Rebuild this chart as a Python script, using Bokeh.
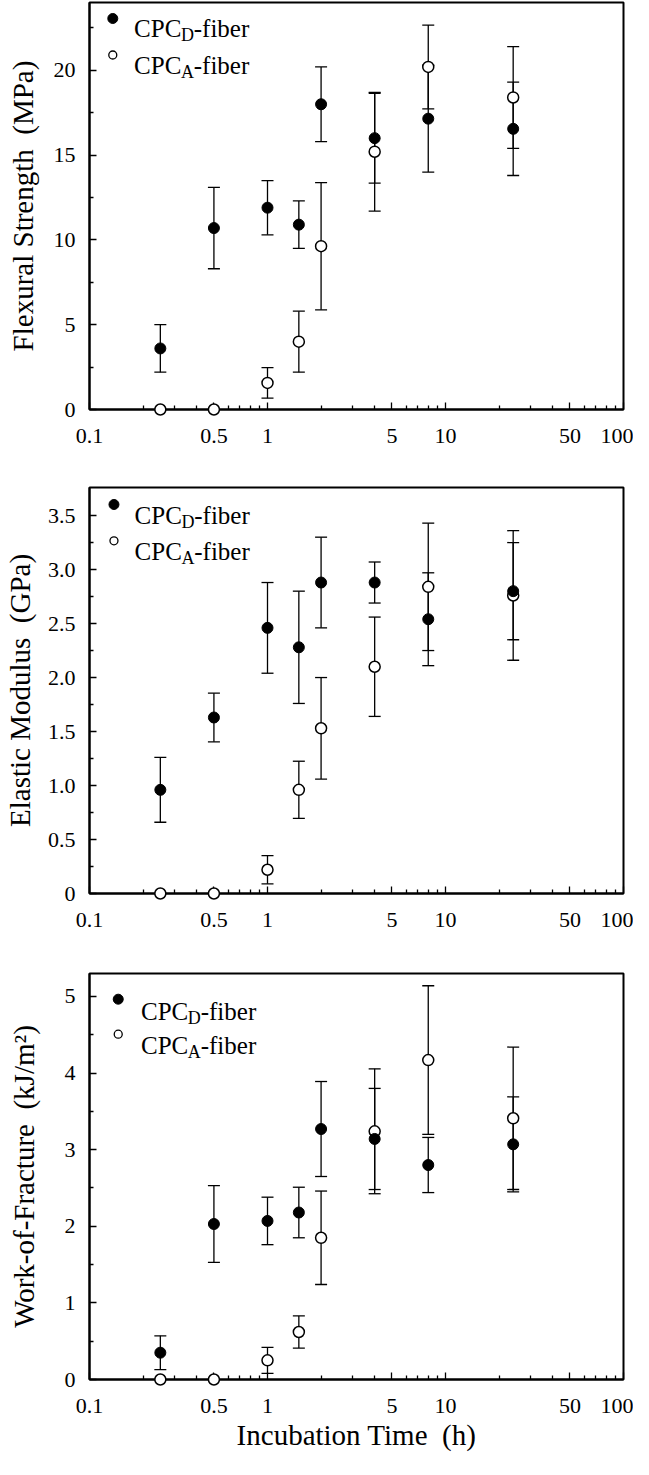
from bokeh.plotting import figure
from bokeh.layouts import column
from bokeh.models import (ColumnDataSource, Whisker, TeeHead, FixedTicker,
                          CustomJSTickFormatter, Range1d, LinearScale)
from bokeh.core.properties import value
from bokeh.embed import file_html
from bokeh.resources import INLINE

# ---------------- data ----------------
time_h = [0.25, 0.5, 1, 1.5, 2, 4, 8, 24]

flex_D = [3.6, 10.7, 11.9, 10.9, 18.0, 16.0, 17.15, 16.55]
flex_D_err = [1.4, 2.4, 1.6, 1.4, 2.2, 2.65, 3.15, 2.75]
flex_A = [0, 0, 1.57, 4.0, 9.63, 15.2, 20.2, 18.4]
flex_A_err = [0, 0, 0.9, 1.8, 3.75, 3.5, 2.47, 3.0]

mod_D = [0.96, 1.63, 2.46, 2.28, 2.88, 2.88, 2.54, 2.80]
mod_D_err = [0.30, 0.225, 0.42, 0.52, 0.42, 0.19, 0.43, 0.45]
mod_A = [0, 0, 0.22, 0.96, 1.53, 2.10, 2.84, 2.76]
mod_A_err = [0, 0, 0.13, 0.265, 0.47, 0.46, 0.59, 0.60]

wof_D = [0.35, 2.03, 2.07, 2.18, 3.27, 3.14, 2.80, 3.07]
wof_D_err = [0.22, 0.50, 0.31, 0.33, 0.62, 0.66, 0.36, 0.62]
wof_A = [0, 0, 0.25, 0.62, 1.85, 3.24, 4.17, 3.41]
wof_A_err = [0, 0, 0.17, 0.21, 0.61, 0.815, 0.97, 0.93]

x_tick_values = [0.1, 0.5, 1, 5, 10, 50, 100]
x_minor_values = [0.2, 0.3, 0.4, 0.6, 0.7, 0.8, 0.9,
                  2, 3, 4, 6, 7, 8, 9,
                  20, 30, 40, 60, 70, 80, 90]

flex_ticks = [0, 5, 10, 15, 20]
flex_minor = [2.5, 7.5, 12.5, 17.5, 22.5]
mod_ticks = [0, 0.5, 1.0, 1.5, 2.0, 2.5, 3.0, 3.5]
mod_minor = [0.25, 0.75, 1.25, 1.75, 2.25, 2.75, 3.25]
wof_ticks = [0, 1, 2, 3, 4, 5]
wof_minor = [0.5, 1.5, 2.5, 3.5, 4.5]

series_names = ["CPC", "D", "A", "-fiber"]
SP2 = "\u00a0 "   # wide gap before the unit, as in the original
x_title = "Incubation Time" + SP2 + "(h)"
y_titles = ["Flexural Strength" + SP2 + "(MPa)",
            "Elastic Modulus" + SP2 + "(GPa)",
            "Work-of-Fracture" + SP2 + "(kJ/m\u00b2)"]

# ---------------- styling ----------------
SERIF = "Liberation Serif"
FIG_W = 633
FRAME_W = 539
TICK_FS = "22px"
TITLE_FS = "29px"
LEG_FS = 25
SUB_FS = 18


def err_source(x, y, e):
    xs, up, lo = [], [], []
    for xi, yi, ei in zip(x, y, e):
        if ei > 0:
            xs.append(xi)
            up.append(yi + ei)
            lo.append(yi - ei)
    return ColumnDataSource(dict(x=xs, upper=up, lower=lo))


def add_legend(p, fh, L):
    p.extra_x_ranges = {"leg": Range1d(0, FRAME_W)}
    p.extra_y_ranges = {"leg": Range1d(0, fh)}
    p.extra_x_scales = {"leg": LinearScale()}
    p.extra_y_scales = {"leg": LinearScale()}
    kw = dict(x_range_name="leg", y_range_name="leg", level="overlay")
    p.scatter(x=[L["mx"]], y=[fh - L["my"][0]], marker="circle", size=10,
              fill_color="black", line_color="black", line_width=1, **kw)
    p.scatter(x=[L["mx"]], y=[fh - L["my"][1]], marker="circle", size=8,
              fill_color="white", line_color="black", line_width=1.3, **kw)
    w_cpc = (0.667 + 0.556 + 0.667) * LEG_FS
    w_sub = 0.722 * SUB_FS
    for row, sub in enumerate([series_names[1], series_names[2]]):
        yb = fh - L["base"][row]
        x0 = L["tx"]
        common = dict(text_font=value(SERIF), text_baseline="alphabetic",
                      text_align="left", text_color="black", **kw)
        p.text(x=[x0], y=[yb], text=[series_names[0]],
               text_font_size=f"{LEG_FS}px", **common)
        p.text(x=[x0 + w_cpc], y=[yb - 6.5], text=[sub],
               text_font_size=f"{SUB_FS}px", **common)
        p.text(x=[x0 + w_cpc + w_sub], y=[yb], text=[series_names[3]],
               text_font_size=f"{LEG_FS}px", **common)


def make_panel(yD, eD, yA, eA, ymax, yticks, yminor, ylabel, yfmt,
               height, bottom, frame_h, leg, label_standoff, xlabel=None):
    p = figure(width=FIG_W, height=height, x_axis_type="log",
               x_range=Range1d(0.1, 100), y_range=Range1d(0, ymax),
               output_backend="svg", toolbar_location=None,
               min_border_left=84, min_border_right=10,
               min_border_top=2, min_border_bottom=bottom)
    p.grid.visible = False
    p.outline_line_color = "black"
    p.outline_line_width = 2
    p.outline_line_alpha = 1
    p.background_fill_color = "white"
    p.border_fill_color = "white"

    xa = p.xaxis[0]
    xa.ticker = FixedTicker(ticks=x_tick_values, minor_ticks=x_minor_values)
    xa.formatter = CustomJSTickFormatter(code="return String(tick);")
    ya = p.yaxis[0]
    ya.ticker = FixedTicker(ticks=yticks, minor_ticks=yminor)
    ya.formatter = CustomJSTickFormatter(code=yfmt)
    for ax in (xa, ya):
        ax.major_tick_in = 7
        ax.major_tick_out = 0
        ax.minor_tick_in = 4
        ax.minor_tick_out = 0
        ax.major_tick_line_width = 1.3
        ax.minor_tick_line_width = 1.3
        ax.axis_line_width = 2
        ax.axis_line_color = "black"
        ax.major_tick_line_color = "black"
        ax.minor_tick_line_color = "black"
        ax.major_label_text_font = SERIF
        ax.major_label_text_font_size = TICK_FS
        ax.major_label_text_color = "black"
        ax.axis_label_text_font = SERIF
        ax.axis_label_text_font_size = TITLE_FS
        ax.axis_label_text_font_style = "normal"
        ax.axis_label_text_color = "black"
    xa.major_label_standoff = 19
    ya.major_label_standoff = 14
    ya.axis_label = ylabel
    ya.axis_label_standoff = label_standoff
    if xlabel:
        xa.axis_label = xlabel
        xa.axis_label_standoff = 3

    for y, e in ((yA, eA), (yD, eD)):
        head = dict(size=12, line_width=1.3, line_color="black")
        w = Whisker(source=err_source(time_h, y, e), base="x",
                    upper="upper", lower="lower", dimension="height",
                    line_color="black", line_width=1.3,
                    upper_head=TeeHead(**head), lower_head=TeeHead(**head))
        p.add_layout(w)

    p.scatter(time_h, yA, marker="circle", size=11, fill_color="white",
              line_color="black", line_width=1.5, level="overlay")
    p.scatter(time_h, yD, marker="circle", size=11, fill_color="black",
              line_color="black", line_width=1, level="overlay")

    add_legend(p, frame_h, leg)
    return p


INT_FMT = "return String(tick);"
DEC_FMT = "return tick == 0 ? '0' : tick.toFixed(1);"

p1 = make_panel(flex_D, flex_D_err, flex_A, flex_A_err, 24.0, flex_ticks, flex_minor,
                y_titles[0], INT_FMT, 485, 76, 407,
                dict(mx=23.5, my=[16, 52.5], tx=45, base=[26, 63.3]), 12)
p2 = make_panel(mod_D, mod_D_err, mod_A, mod_A_err, 3.76, mod_ticks, mod_minor,
                y_titles[1], DEC_FMT, 486, 78, 406,
                dict(mx=24.7, my=[17, 53.3], tx=45.5, base=[27.7, 64]), 9)
p3 = make_panel(wof_D, wof_D_err, wof_A, wof_A_err, 5.3, wof_ticks, wof_minor,
                y_titles[2], INT_FMT, 488, 80, 406,
                dict(mx=29, my=[25.7, 60.7], tx=52, base=[38.3, 72]), 22, x_title)

layout = column(p1, p2, p3, spacing=0)
open("out.html", "w").write(file_html(layout, INLINE))
